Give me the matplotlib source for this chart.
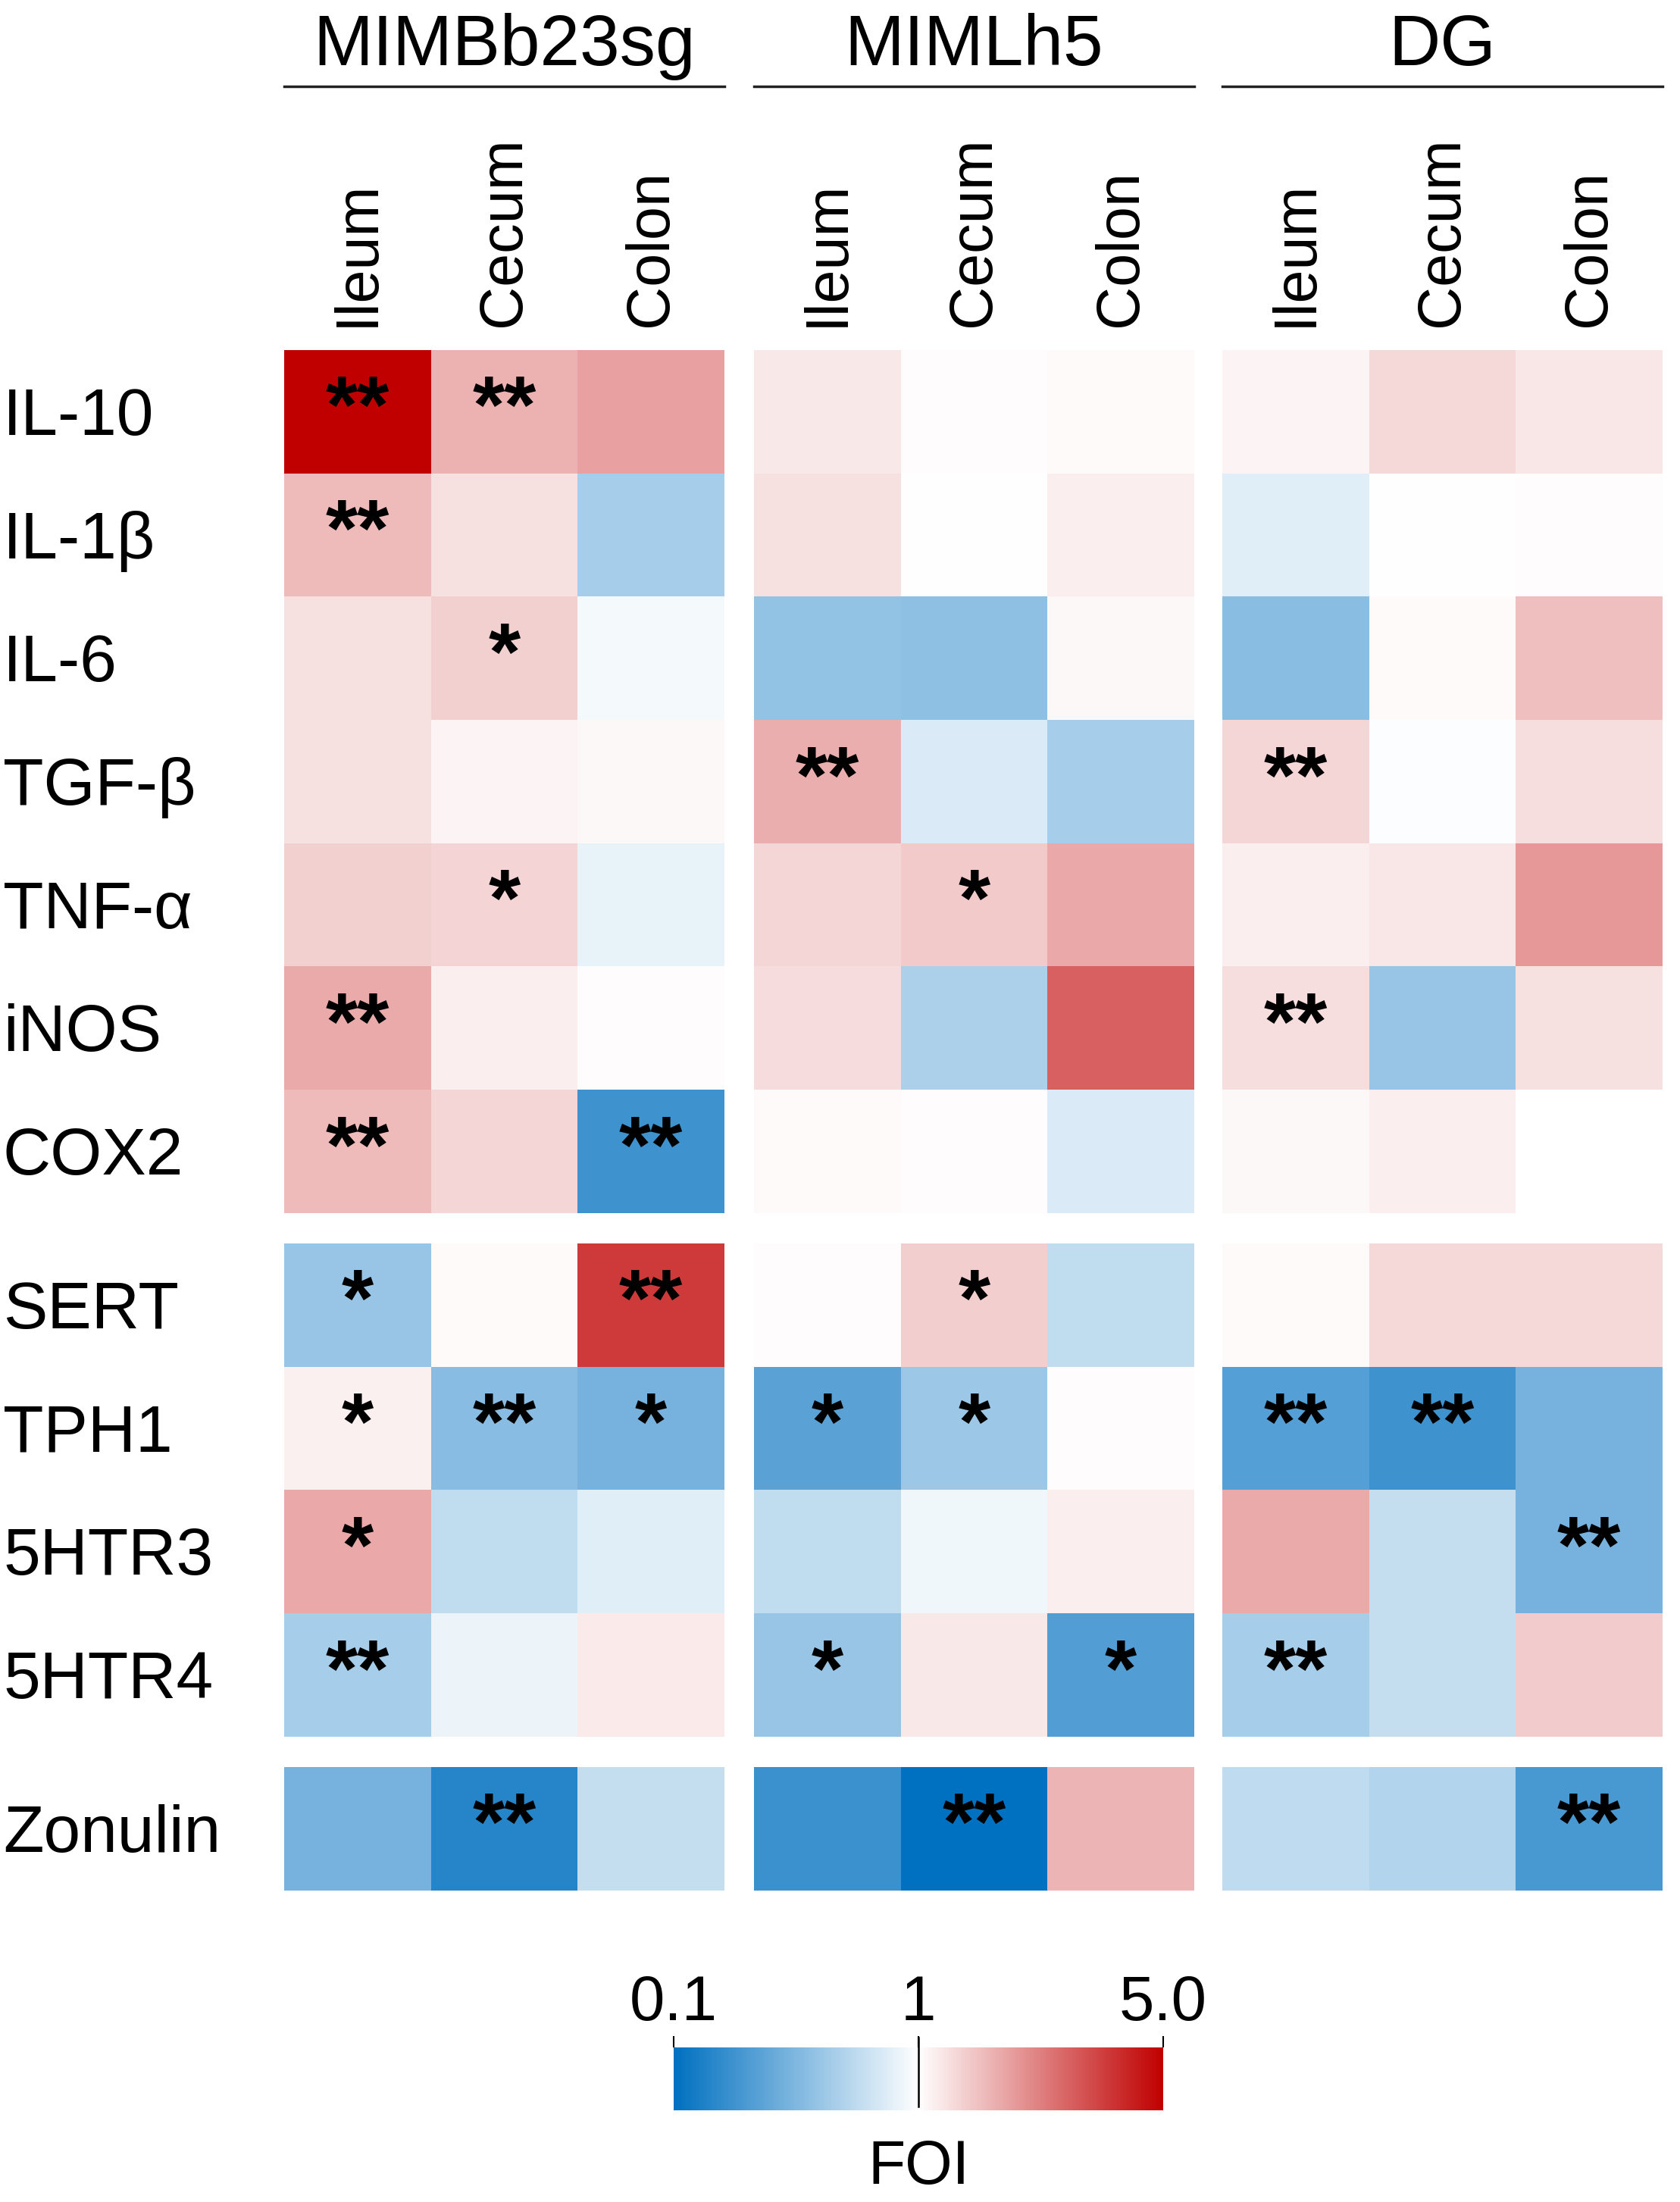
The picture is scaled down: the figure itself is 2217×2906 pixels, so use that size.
import matplotlib
matplotlib.use("Agg")
import matplotlib.pyplot as plt
import matplotlib.colors as mcolors
import matplotlib.transforms as mtransforms
from matplotlib.lines import Line2D
import numpy as np

plt.rcParams['font.family'] = ['Liberation Sans', 'DejaVu Sans']

groups = ["MIMBb23sg", "MIMLh5", "DG"]
tissues = ["Ileum", "Cecum", "Colon"]
genes = ["IL-10", "IL-1β", "IL-6", "TGF-β", "TNF-α", "iNOS", "COX2",
         "SERT", "TPH1", "5HTR3", "5HTR4", "Zonulin"]

# fold of induction (rows = genes, cols = tissues)
foi_mimbb = [[5.00, 2.20, 2.48],
             [2.08, 1.48, 0.69],
             [1.48, 1.72, 0.96],
             [1.48, 1.16, 1.12],
             [1.72, 1.68, 0.92],
             [2.32, 1.28, 1.04],
             [2.08, 1.64, 0.32],
             [0.64, 1.08, 4.08],
             [1.24, 0.58, 0.52],
             [2.36, 0.78, 0.89],
             [0.69, 0.93, 1.32],
             [0.52, 0.24, 0.79]]
foi_mimlh = [[1.36, 1.04, 1.08],
             [1.48, 1.00, 1.28],
             [0.62, 0.60, 1.12],
             [2.28, 0.87, 0.69],
             [1.64, 1.84, 2.36],
             [1.56, 0.71, 3.48],
             [1.08, 1.04, 0.87],
             [1.04, 1.76, 0.78],
             [0.42, 0.65, 1.04],
             [0.78, 0.95, 1.28],
             [0.64, 1.36, 0.39],
             [0.31, 0.10, 2.16]]
foi_dg = [[1.16, 1.60, 1.40],
          [0.89, 1.00, 1.04],
          [0.59, 1.08, 2.00],
          [1.64, 0.99, 1.52],
          [1.28, 1.40, 2.60],
          [1.52, 0.64, 1.48],
          [1.12, 1.28, np.nan],
          [1.08, 1.60, 1.60],
          [0.40, 0.32, 0.52],
          [2.32, 0.79, 0.52],
          [0.69, 0.79, 1.80],
          [0.77, 0.73, 0.36]]

stars_mimbb = [["**", "**", ""], ["**", "", ""], ["", "*", ""], ["", "", ""],
               ["", "*", ""], ["**", "", ""], ["**", "", "**"], ["*", "", "**"],
               ["*", "**", "*"], ["*", "", ""], ["**", "", ""], ["", "**", ""]]
stars_mimlh = [["", "", ""], ["", "", ""], ["", "", ""], ["**", "", ""],
               ["", "*", ""], ["", "", ""], ["", "", ""], ["", "*", ""],
               ["*", "*", ""], ["", "", ""], ["*", "", "*"], ["", "**", ""]]
stars_dg = [["", "", ""], ["", "", ""], ["", "", ""], ["**", "", ""],
            ["", "", ""], ["**", "", ""], ["", "", ""], ["", "", ""],
            ["**", "**", ""], ["", "", "**"], ["**", "", ""], ["", "", "**"]]

cbar_ticks = [0.1, 1, 5.0]
cbar_ticklabels = ["0.1", "1", "5.0"]

W, H = 2217, 2906
fig = plt.figure(figsize=(W / 100, H / 100), dpi=100)

cmap = mcolors.LinearSegmentedColormap.from_list("foi", ["#0070C0", "#FFFFFF", "#C00000"])
norm = mcolors.TwoSlopeNorm(vmin=0.1, vcenter=1.0, vmax=5.0)

# layout in pixels
group_x = [375, 995, 1613]
group_w = 581
blocks = [(0, 7, 462), (7, 11, 1641), (11, 12, 2332)]
row_h = 162.7

all_foi = [foi_mimbb, foi_mimlh, foi_dg]
all_stars = [stars_mimbb, stars_mimlh, stars_dg]

for g, gname in enumerate(groups):
    data = np.ma.masked_invalid(np.array(all_foi[g], dtype=float))
    for b, (r0, r1, top) in enumerate(blocks):
        n = r1 - r0
        ax = fig.add_axes([group_x[g] / W, 1 - (top + n * row_h) / H,
                           group_w / W, n * row_h / H])
        ax.pcolormesh(np.arange(4), np.arange(n + 1), data[r0:r1],
                      cmap=cmap, norm=norm)
        ax.set_xlim(0, 3)
        ax.set_ylim(n, 0)
        for s in ax.spines.values():
            s.set_visible(False)
        ax.set_yticks([])
        for i in range(n):
            for j in range(3):
                st = all_stars[g][r0 + i][j]
                if st:
                    ax.text(j + 0.5, i + 0.5, st, ha="center", va="center",
                            fontsize=78, fontweight="bold", color="black")
        if b == 0:
            ax.xaxis.tick_top()
            ax.set_xticks(np.arange(3) + 0.5)
            ax.set_xticklabels(tissues, rotation=90, fontsize=57)
            ax.tick_params(axis="x", length=0, pad=22)
        else:
            ax.set_xticks([])
        if g == 0:
            trans = mtransforms.blended_transform_factory(fig.transFigure, ax.transData)
            for i in range(n):
                ax.text(4 / W, i + 0.55, genes[r0 + i], transform=trans,
                        ha="left", va="center", fontsize=63)

    # group title and underline
    cx = (group_x[g] + group_w / 2) / W
    fig.text(cx, 1 - 86 / H, gname, ha="center", va="baseline", fontsize=68)
    fig.add_artist(Line2D([group_x[g] / W, (group_x[g] + group_w) / W],
                          [1 - 114 / H, 1 - 114 / H],
                          transform=fig.transFigure, color="#222222", lw=2.5))

# colour bar
cax = fig.add_axes([889 / W, 1 - 2785 / H, (1535 - 889) / W, (2785 - 2702) / H])
sm = plt.cm.ScalarMappable(norm=norm, cmap=cmap)
cb = fig.colorbar(sm, cax=cax, orientation="horizontal")
cb.outline.set_visible(False)
cb.set_ticks(cbar_ticks)
cb.set_ticklabels(cbar_ticklabels)
cax.xaxis.set_ticks_position("top")
cax.xaxis.set_label_position("top")
cax.tick_params(axis="x", length=11, width=1.5, pad=3, labelsize=60)
cax.axvline(1.0, ymin=0.06, ymax=1.16, color="black", lw=1.8, clip_on=False)
fig.text(1212 / W, 1 - 2861 / H, "FOI", ha="center", va="center", fontsize=58)

fig.savefig("out.png", dpi=100, facecolor="white")
